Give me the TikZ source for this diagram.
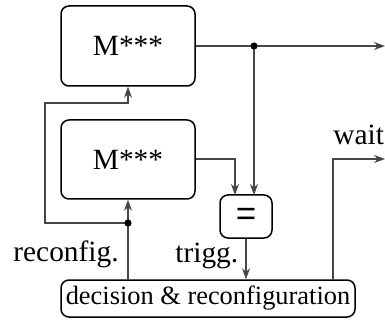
\documentclass[tikz,border=0pt]{standalone}
\usepackage{fontspec}
\setmainfont{Liberation Serif}
\newfontfamily\eqfont{Liberation Sans}
\usetikzlibrary{arrows.meta}
\begin{document}
\begin{tikzpicture}[x=0.5pt,y=-0.5pt,
  box/.style={draw=black,line width=0.75pt,rounded corners=4pt,inner sep=0pt,
    font=\fontsize{14.7}{17}\selectfont},
  conn/.style={draw={rgb,255:red,70;green,70;blue,70},line width=0.55pt},
  arr/.style={conn,-{Stealth[length=5.5pt,width=4pt,inset=1.8pt]}},
  dot/.style={fill=black,circle,inner sep=0pt,minimum size=3.6pt},
  lbl/.style={anchor=base west,inner sep=0pt,font=\fontsize{14.7}{17}\selectfont}]
\useasboundingbox (0,0) rectangle (385,320);
% boxes
\node[box,minimum width=67pt,minimum height=40pt] (m1) at (128,46) {M***};
\node[box,minimum width=67pt,minimum height=39.5pt] (m2) at (128,159.5) {M***};
\node[box,minimum width=26pt,minimum height=21.5pt,font=\fontsize{17.5}{20}\eqfont] (eq) at (246,216.5) {=};
\node[box,minimum width=147pt,minimum height=18.5pt,font=\fontsize{13.2}{15}\selectfont] (dec) at (208,298.5) {decision \& reconfiguration};
% coordinates
\coordinate (out1) at (385,46);
\coordinate (d1) at (254,46);
\coordinate (eqinA) at (235,195);
\coordinate (eqinB) at (254,195);
\coordinate (wt) at (333,280);
\coordinate (waitout) at (385,159);
\coordinate (rc) at (128,280);
\coordinate (d2) at (128,223);
\coordinate (lp1) at (45,223);
\coordinate (lp2) at (45,103);
\coordinate (lp3) at (128,103);
% connectors
\draw[arr] (m1.east) -- (out1);
\draw[arr] (d1) -- (eqinB);
\draw[arr] (m2.east |- 0,159) -| (eqinA);
\draw[arr] (eq.south) -- (dec.north -| eq.south);
\draw[arr] (wt) |- (waitout);
\draw[arr] (rc) -- (m2.south);
\draw[arr] (d2) -- (lp1) -- (lp2) -- (lp3) -- (m1.south);
\node[dot] (dot1) at (d1) {};
\node[dot] (dot2) at (d2) {};
% labels
\node[lbl] (lwait) at (333,145) {wait};
\node[lbl] (lrec) at (13,262) {reconfig.};
\node[lbl] (ltrig) at (175,263) {trigg.};
\end{tikzpicture}
\end{document}
